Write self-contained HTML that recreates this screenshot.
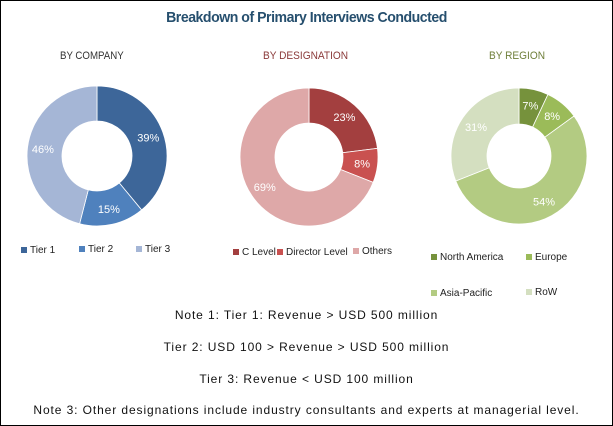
<!DOCTYPE html>
<html><head><meta charset="utf-8"><style>
body{margin:0;background:#fff}
#c{position:relative;width:611px;height:424px;border:1px solid #000;font-family:"Liberation Sans",sans-serif;overflow:hidden}
.t{position:absolute;white-space:nowrap}
.n{left:0;width:611px;text-align:center;font-size:12px;color:#111;letter-spacing:0.9px}
</style></head><body>
<div id="c">
<div class="t" style="left:0;width:611px;text-align:center;top:8px;font-size:15px;font-weight:bold;color:#264f6e;letter-spacing:-0.5px;transform:scaleX(0.94)">Breakdown of Primary Interviews Conducted</div>
<div class="t" style="left:59px;top:49px;font-size:11px;color:#333;transform:scaleX(0.88);transform-origin:left">BY COMPANY</div>
<div class="t" style="left:262px;top:49px;font-size:11px;color:#8b3a3a;transform:scaleX(0.92);transform-origin:left">BY DESIGNATION</div>
<div class="t" style="left:488px;top:49px;font-size:11px;color:#6f7f3a;transform:scaleX(0.92);transform-origin:left">BY REGION</div>
<svg id="s" width="611" height="424" style="position:absolute;left:0;top:0"></svg>
<div class="t n" style="top:307px">Note 1: Tier 1: Revenue &gt; USD 500 million</div>
<div class="t n" style="top:339px">Tier 2: USD 100 &gt; Revenue &gt; USD 500 million</div>
<div class="t n" style="top:371px">Tier 3: Revenue &lt; USD 100 million</div>
<div class="t n" style="top:402px">Note 3: Other designations include industry consultants and experts at managerial level.</div>
</div>
<script>
const companyLabels=["Tier 1","Tier 2","Tier 3"];
const companyValues=[39,15,46];
const designationLabels=["C Level","Director Level","Others"];
const designationValues=[23,8,69];
const regionLabels=["North America","Europe","Asia-Pacific","RoW"];
const regionValues=[7,8,54,31];
const NS="http://www.w3.org/2000/svg";
const svg=document.getElementById('s');
function donut(name,cx,cy,ro,ri,vals,cols,labels,legend){
  const tot=vals.reduce((a,b)=>a+b,0);let a0=0;
  vals.forEach((v,i)=>{
    const a1=a0+v/tot*2*Math.PI;
    const p=(r,a)=>[cx+r*Math.sin(a),cy-r*Math.cos(a)];
    const [x1,y1]=p(ro,a0),[x2,y2]=p(ro,a1),[x3,y3]=p(ri,a1),[x4,y4]=p(ri,a0);
    const lg=(a1-a0)>Math.PI?1:0;
    const path=document.createElementNS(NS,'path');
    path.setAttribute('d',`M${x1},${y1}A${ro},${ro} 0 ${lg} 1 ${x2},${y2}L${x3},${y3}A${ri},${ri} 0 ${lg} 0 ${x4},${y4}Z`);
    path.setAttribute('fill',cols[i]);path.setAttribute('stroke','#fff');path.setAttribute('stroke-width','0.8');
    
    
    svg.appendChild(path);
    const am=(a0+a1)/2,[tx,ty]=p((ro+ri)/2+2,am);
    const t=document.createElementNS(NS,'text');
    t.setAttribute('x',tx);t.setAttribute('y',ty+4);t.setAttribute('text-anchor','middle');
    t.setAttribute('font-size','11');t.setAttribute('fill','#fff');t.setAttribute('font-family','Liberation Sans, sans-serif');
    t.textContent=v+'%';
    
    
    svg.appendChild(t);
    const [lx,ly]=legend[i];
    const r=document.createElementNS(NS,'rect');
    r.setAttribute('x',lx);r.setAttribute('y',ly-6);r.setAttribute('width',6);r.setAttribute('height',6);r.setAttribute('fill',cols[i]);
    
    
    svg.appendChild(r);
    const lt=document.createElementNS(NS,'text');
    lt.setAttribute('x',lx+9);lt.setAttribute('y',ly);lt.setAttribute('font-size','10');lt.setAttribute('fill','#222');lt.setAttribute('font-family','Liberation Sans, sans-serif');
    lt.textContent=labels[i];
    
    
    svg.appendChild(lt);
    a0=a1;
  });
}
donut('company',96,155,70,35,companyValues,['#3d6699','#4f81bd','#a5b6d6'],companyLabels,[[20,252],[78,251],[135,251]]);
donut('designation',308,156,69,34,designationValues,['#a33f3f','#c95150','#dea8a8'],designationLabels,[[232,254],[276,254],[352,253]]);
donut('region',518,155,68,32,regionValues,['#76923c','#9bbb59','#b3cb82','#d4dfc0'],regionLabels,[[430,259],[525,259],[430,295],[525,294]]);
</script>
</body></html>
